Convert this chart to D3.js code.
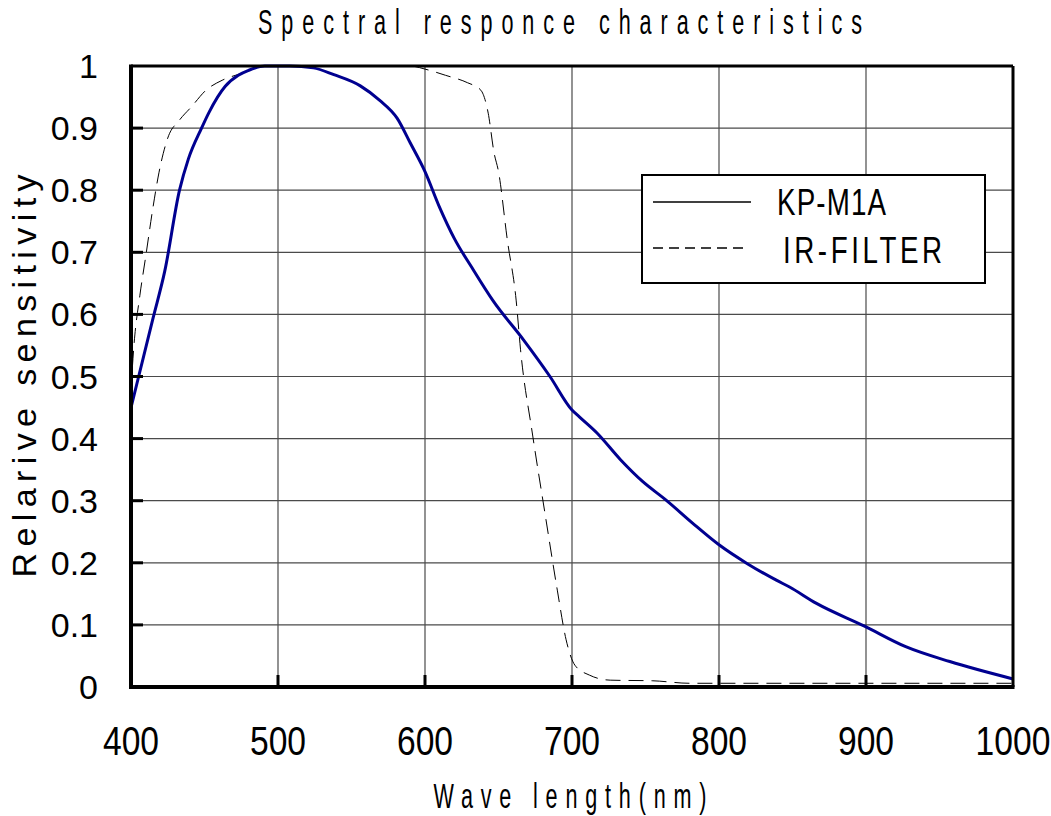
<!DOCTYPE html>
<html>
<head>
<meta charset="utf-8">
<script src="https://cdn.jsdelivr.net/npm/d3@7"></script>
<style>
  body { margin: 0; background: #fff; }
  text { font-family: "Liberation Sans", Arial, sans-serif; fill: #000; }
</style>
</head>
<body>
<div id="chart"></div>
<script>
// sensor response (KP-M1A)
const kpWave  = [400, 405, 415, 423, 433, 439, 448, 453, 464, 473, 480, 491, 508, 524, 538, 556, 569, 581, 590, 600, 610, 620, 632, 646, 667, 685, 700, 705, 717, 733, 748, 764, 782, 800, 819, 839, 848, 866, 899, 927, 957, 1000];
const kpValue = [0.45, 0.498, 0.594, 0.67, 0.80, 0.85, 0.90, 0.925, 0.967, 0.985, 0.993, 1.0, 1.0, 0.997, 0.986, 0.968, 0.945, 0.916, 0.876, 0.83, 0.772, 0.722, 0.675, 0.623, 0.559, 0.50, 0.446, 0.435, 0.409, 0.366, 0.331, 0.301, 0.264, 0.229, 0.199, 0.172, 0.161, 0.135, 0.098, 0.065, 0.041, 0.013];

// IR cut filter transmission
const irWave  = [400, 402, 406, 410, 415, 419, 425, 433, 441, 451, 462, 475, 490, 590, 600, 614, 629, 638, 643, 647, 650, 656, 662, 665, 673, 682, 690, 696, 702, 712, 726, 755, 780, 1000];
const irValue = [0.48, 0.55, 0.63, 0.693, 0.773, 0.828, 0.884, 0.913, 0.934, 0.961, 0.977, 0.988, 1.0, 1.0, 0.995, 0.985, 0.973, 0.961, 0.924, 0.86, 0.83, 0.72, 0.623, 0.543, 0.409, 0.274, 0.156, 0.076, 0.035, 0.019, 0.011, 0.010, 0.006, 0.006];

const xTicks = [400, 500, 600, 700, 800, 900, 1000];
const yTicks = [0, 0.1, 0.2, 0.3, 0.4, 0.5, 0.6, 0.7, 0.8, 0.9, 1];
const seriesNames = ["KP-M1A", "IR-FILTER"];

(function() {
    const width = 1051;
    const height = 816;
    const left = 131, right = 1013, plotTop = 66, plotBottom = 687;

    const svg = d3.select("#chart")
        .append("svg")
        .attr("width", width)
        .attr("height", height);

    const x = d3.scaleLinear().domain([400, 1000]).range([left, right]);
    const y = d3.scaleLinear().domain([0, 1]).range([plotBottom, plotTop]);

    // squeezed text, the original uses a narrow font
    function narrowText(str, cx, cy, size, sx, len, anchor) {
        const t = svg.append("text")
            .attr("transform", `translate(${cx},${cy}) scale(${sx},1)`)
            .attr("text-anchor", anchor || "middle")
            .style("font-size", size + "px")
            .text(str);
        if (len) t.attr("textLength", len / sx).attr("lengthAdjust", "spacing");
        return t;
    }

    // grid
    svg.append("g")
        .selectAll("line")
        .data(xTicks.slice(1, -1))
        .enter().append("line")
        .attr("x1", d => x(d)).attr("x2", d => x(d))
        .attr("y1", plotTop).attr("y2", plotBottom)
        .attr("stroke", "#4a4a4a").attr("stroke-width", 1.2);

    svg.append("g")
        .selectAll("line")
        .data(yTicks.slice(1, -1))
        .enter().append("line")
        .attr("x1", left).attr("x2", right)
        .attr("y1", d => y(d)).attr("y2", d => y(d))
        .attr("stroke", "#4a4a4a").attr("stroke-width", 1.2);

    // curves
    const line = d3.line()
        .curve(d3.curveMonotoneX)
        .x(d => x(d[0]))
        .y(d => y(d[1]));

    svg.append("path")
        .datum(irWave.map((w, i) => [w, irValue[i]]))
        .attr("d", line)
        .attr("fill", "none")
        .attr("stroke", "#000")
        .attr("stroke-width", 1)
        .attr("stroke-dasharray", "15,8");

    svg.append("path")
        .datum(kpWave.map((w, i) => [w, kpValue[i]]))
        .attr("d", line)
        .attr("fill", "none")
        .attr("stroke", "#000090")
        .attr("stroke-width", 3);

    // frame
    svg.append("line").attr("x1", left).attr("x2", right).attr("y1", plotTop).attr("y2", plotTop)
        .attr("stroke", "#000").attr("stroke-width", 3);
    svg.append("line").attr("x1", right).attr("x2", right).attr("y1", plotTop).attr("y2", plotBottom)
        .attr("stroke", "#000").attr("stroke-width", 3);
    svg.append("line").attr("x1", left).attr("x2", left).attr("y1", plotTop - 1.5).attr("y2", plotBottom + 2)
        .attr("stroke", "#000").attr("stroke-width", 4);
    svg.append("line").attr("x1", left - 2).attr("x2", right + 1.5).attr("y1", plotBottom).attr("y2", plotBottom)
        .attr("stroke", "#000").attr("stroke-width", 4);

    // inner ticks
    svg.append("g")
        .selectAll("line")
        .data(yTicks.slice(1, -1))
        .enter().append("line")
        .attr("x1", left).attr("x2", left + 12)
        .attr("y1", d => y(d)).attr("y2", d => y(d))
        .attr("stroke", "#000").attr("stroke-width", 3);

    svg.append("g")
        .selectAll("line")
        .data(xTicks.slice(1, -1))
        .enter().append("line")
        .attr("x1", d => x(d)).attr("x2", d => x(d))
        .attr("y1", plotBottom).attr("y2", plotBottom - 12)
        .attr("stroke", "#000").attr("stroke-width", 3);

    // tick labels
    xTicks.forEach(d => narrowText(d, x(d), 755, 41, 0.82));

    svg.append("g")
        .selectAll("text")
        .data(yTicks)
        .enter().append("text")
        .attr("x", 98)
        .attr("y", d => y(d) + 12)
        .attr("text-anchor", "end")
        .style("font-size", "34px")
        .text(d => d);

    // titles
    narrowText("Spectral responce characteristics", 560, 34, 36, 0.6, 604);
    narrowText("Wave length(nm)", 570, 808, 36, 0.6, 273);

    svg.append("text")
        .attr("transform", "translate(36,376) rotate(-90)")
        .attr("text-anchor", "middle")
        .attr("textLength", 403)
        .attr("lengthAdjust", "spacing")
        .style("font-size", "34px")
        .text("Relarive sensitivity");

    // legend
    svg.append("rect")
        .attr("x", 642).attr("y", 175)
        .attr("width", 343).attr("height", 108)
        .attr("fill", "#fff")
        .attr("stroke", "#000").attr("stroke-width", 2);

    svg.append("line").attr("x1", 653).attr("x2", 751).attr("y1", 202).attr("y2", 202)
        .attr("stroke", "#000").attr("stroke-width", 1.5);
    svg.append("line").attr("x1", 653).attr("x2", 749).attr("y1", 248).attr("y2", 248)
        .attr("stroke", "#000").attr("stroke-width", 1.5)
        .attr("stroke-dasharray", "10,6");

    narrowText(seriesNames[0], 777, 215, 37, 0.75, 109, "start");
    narrowText(seriesNames[1], 783, 263, 37, 0.75, 159, "start");
})();
</script>
</body>
</html>
